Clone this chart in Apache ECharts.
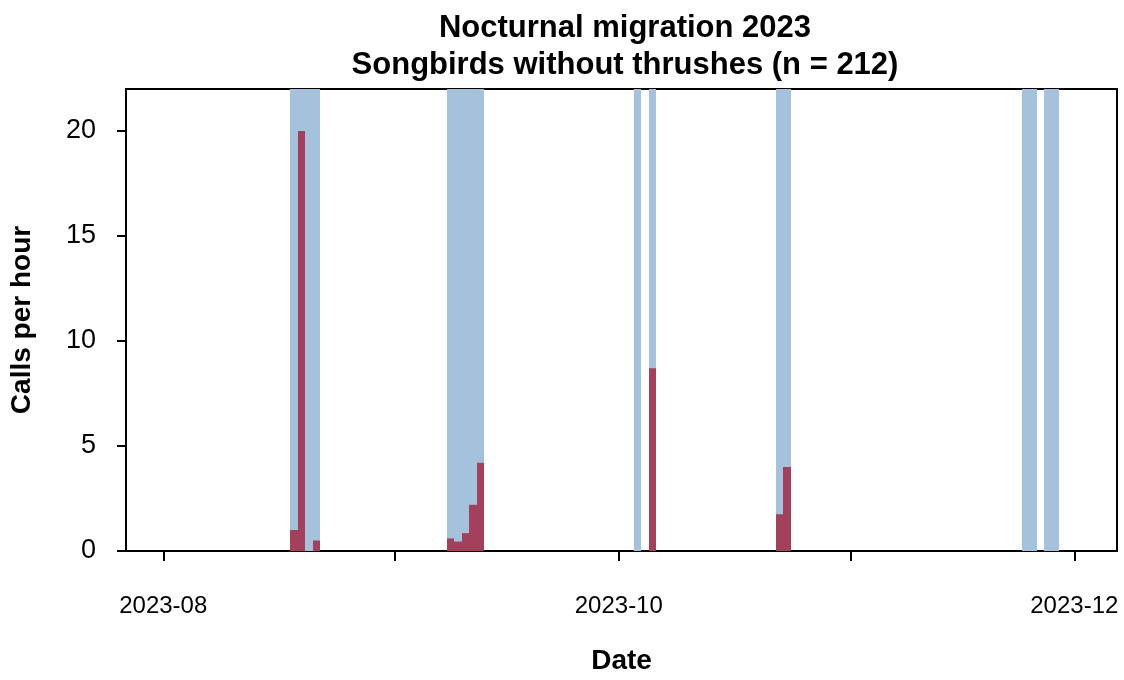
<!DOCTYPE html>
<html>
<head>
<meta charset="utf-8">
<script src="https://cdn.jsdelivr.net/npm/echarts@6/dist/echarts.min.js"></script>
<style>
html,body{margin:0;padding:0;background:#fff;}
#chart{width:1124px;height:680px;}
</style>
</head>
<body>
<div id="chart"></div>
<script>
// Observed nights (each covers one day on the date axis)
const nights = ['2023-08-18','2023-08-19','2023-08-20','2023-08-21',
  '2023-09-08','2023-09-09','2023-09-10','2023-09-11','2023-09-12',
  '2023-10-03','2023-10-05',
  '2023-10-22','2023-10-23',
  '2023-11-24','2023-11-25','2023-11-27','2023-11-28'];
// Calls per hour for each night
const callsPerHour = [1.0, 20.0, 0, 0.5,
  0.6, 0.45, 0.85, 2.2, 4.2,
  0, 8.7,
  1.75, 4.0,
  0, 0, 0, 0];
const monthTicks = ['2023-08-01','2023-09-01','2023-10-01','2023-11-01','2023-12-01'];
const monthLabels = ['2023-08-01','2023-10-01','2023-12-01'];
const yTicks = [0, 5, 10, 15, 20];
const titleText = 'Nocturnal migration 2023\nSongbirds without thrushes (n = 212)';

const DAY = 86400000;
function ts(s){ const p = s.split('-').map(Number); return Date.UTC(p[0], p[1]-1, p[2]); }
const base = ts('2023-08-01');
const xMin = base - 4.99 * DAY;
const xMax = base + 127.72 * DAY;
const yMax = 22;

const bandData = nights.map(d => [ts(d), ts(d) + DAY]);
const barData = nights.map((d, i) => [ts(d), ts(d) + DAY, callsPerHour[i]]);

const FONT = "'Liberation Sans', Arial, sans-serif";
const chart = echarts.init(document.getElementById('chart'), null, {renderer:'canvas'});
function rectFrom(p0, p1, fill){
  const x0 = Math.round(p0[0]), x1 = Math.round(p1[0]);
  return {type: 'rect', shape: {x: x0, y: p1[1], width: x1 - x0, height: p0[1] - p1[1]}, style: {fill: fill}};
}
chart.setOption({
  animation: false,
  backgroundColor: '#ffffff',
  title: {
    text: titleText,
    left: 620, top: 5, textAlign: 'center',
    textStyle: {fontFamily: FONT, fontSize: 31, fontWeight: 'bold', color: '#000', lineHeight: 37}
  },
  grid: {left: 125, right: 7, top: 89, bottom: 127, show: true, borderColor: '#000', borderWidth: 2, backgroundColor: 'transparent'},
  xAxis: {
    type: 'value', min: xMin, max: xMax,
    name: 'Date', nameLocation: 'middle', nameGap: 96,
    nameTextStyle: {fontFamily: FONT, fontSize: 28, fontWeight: 'bold', color: '#000'},
    axisLine: {show: false},
    splitLine: {show: false},
    axisTick: {show: true, length: 10, lineStyle: {color: '#000', width: 2}, customValues: monthTicks.map(ts)},
    axisLabel: {
      customValues: monthLabels.map(ts), margin: 43,
      fontFamily: FONT, fontSize: 24, color: '#000',
      formatter: function(v){ const d = new Date(v); const m = d.getUTCMonth()+1; return d.getUTCFullYear() + '-' + (m < 10 ? '0' + m : m); }
    }
  },
  yAxis: {
    type: 'value', min: 0, max: yMax,
    name: 'Calls per hour', nameLocation: 'middle', nameGap: 90, nameRotate: 90,
    nameTextStyle: {fontFamily: FONT, fontSize: 28, fontWeight: 'bold', color: '#000'},
    axisLine: {show: false},
    splitLine: {show: false},
    axisTick: {show: true, length: 9, lineStyle: {color: '#000', width: 2}, customValues: yTicks},
    axisLabel: {customValues: yTicks, margin: 30, fontFamily: FONT, fontSize: 27, color: '#000'}
  },
  series: [
    {
      type: 'custom', name: 'nights', clip: true,
      data: bandData,
      encode: {x: [0, 1]},
      renderItem: function(params, api){
        return rectFrom(api.coord([api.value(0), 0]), api.coord([api.value(1), yMax]), '#a4c2db');
      }
    },
    {
      type: 'custom', name: 'calls', clip: true,
      data: barData,
      encode: {x: [0, 1], y: 2},
      renderItem: function(params, api){
        return rectFrom(api.coord([api.value(0), 0]), api.coord([api.value(1), api.value(2)]), '#a3405b');
      }
    }
  ]
});
</script>
</body>
</html>
